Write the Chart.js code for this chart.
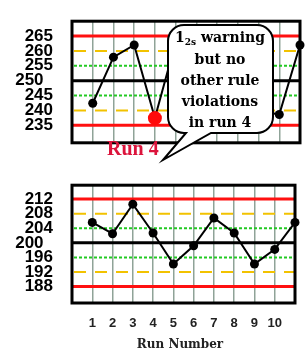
<!DOCTYPE html>
<html>
<head>
<meta charset="utf-8">
<script src="https://cdn.jsdelivr.net/npm/chart.js@4.4.1/dist/chart.umd.min.js"></script>
<style>
  html, body { margin: 0; padding: 0; background: #fff; }
  #wrap { position: relative; width: 308px; height: 354px; overflow: hidden; background: #fff; }
  #topChart { position: absolute; left: 0; top: 0; }
  #bottomChart { position: absolute; left: 0; top: 164px; }
</style>
</head>
<body>
<div id="wrap">
  <canvas id="topChart" width="308" height="164"></canvas>
  <canvas id="bottomChart" width="308" height="190"></canvas>
</div>
<script>
// run numbers (11th point sits on the right frame, unlabelled)
const runs = [1, 2, 3, 4, 5, 6, 7, 8, 9, 10, 11];
const runLabels = ['1', '2', '3', '4', '5', '6', '7', '8', '9', '10'];

// high control (mean 250, sd 5) and low control (mean 200, sd 4)
const highValues = [242.4, 257.9, 262.0, 237.4, 263.0, 255.0, 267.4, 252.0, 240.0, 238.6, 262.0];
const lowValues = [205.6, 202.5, 210.6, 202.7, 194.2, 199.2, 206.8, 202.7, 194.2, 198.2, 205.6];

const highTicks = [235, 240, 245, 250, 255, 260, 265];
const lowTicks = [188, 192, 196, 200, 204, 208, 212];
const limitKinds = ['3s', '2s', '1s', 'mean', '1s', '2s', '3s'];

const highRange = [229.1, 270.0];
const lowRange = [183.5, 215.8];

const flaggedRun = 4;
const calloutLines = ['but no', 'other rule', 'violations', 'in run 4'];

const limitStyle = {
  '3s': { color: '#ff1010', width: 3, dash: [] },
  '2s': { color: '#f2c200', width: 2, dash: [12, 9] },
  '1s': { color: '#22c922', width: 2, dash: [3, 2] },
  'mean': { color: '#000', width: 3, dash: [] },
};

// control limit lines + plot frame, drawn under the data
const limitsPlugin = {
  id: 'limits',
  beforeDatasetsDraw(chart, args, opts) {
    const { ctx, chartArea: a, scales } = chart;
    ctx.save();
    opts.ticks.forEach((v, i) => {
      const s = limitStyle[limitKinds[i]];
      const y = scales.y.getPixelForValue(v);
      ctx.beginPath();
      ctx.strokeStyle = s.color;
      ctx.lineWidth = s.width;
      ctx.setLineDash(s.dash);
      ctx.lineDashOffset = -2;
      ctx.moveTo(a.left, y);
      ctx.lineTo(a.right, y);
      ctx.stroke();
    });
    ctx.setLineDash([]);
    ctx.lineWidth = 3;
    ctx.strokeStyle = '#000';
    ctx.strokeRect(a.left, a.top, a.right - a.left, a.bottom - a.top);
    ctx.restore();
  }
};

function drawCallout(ctx) {
  const x0 = 168, x1 = 273, y0 = 25, y1 = 133, r = 16;
  ctx.save();
  ctx.beginPath();
  ctx.moveTo(x0 + r, y0);
  ctx.lineTo(x1 - r, y0);
  ctx.arcTo(x1, y0, x1, y0 + r, r);
  ctx.lineTo(x1, y1 - r);
  ctx.arcTo(x1, y1, x1 - r, y1, r);
  ctx.lineTo(211, y1);
  ctx.lineTo(163, 160);
  ctx.lineTo(186, y1);
  ctx.lineTo(x0 + r, y1);
  ctx.arcTo(x0, y1, x0, y1 - r, r);
  ctx.lineTo(x0, y0 + r);
  ctx.arcTo(x0, y0, x0 + r, y0, r);
  ctx.closePath();
  ctx.fillStyle = '#fff';
  ctx.fill();
  ctx.lineWidth = 2;
  ctx.strokeStyle = '#000';
  ctx.stroke();

  // text
  const cx = 220;
  const big = 'bold 14px "DejaVu Serif"';
  const small = 'bold 9px "DejaVu Serif"';
  ctx.fillStyle = '#000';
  ctx.textBaseline = 'middle';
  ctx.textAlign = 'left';
  ctx.font = big;
  const w1 = ctx.measureText('1').width;
  const w3 = ctx.measureText(' warning').width;
  ctx.font = small;
  const w2 = ctx.measureText('2s').width;
  let x = cx - (w1 + w2 + w3) / 2;
  ctx.font = big;
  ctx.fillText('1', x, 38);
  ctx.font = small;
  ctx.fillText('2s', x + w1, 43);
  ctx.font = big;
  ctx.fillText(' warning', x + w1 + w2, 38);
  ctx.textAlign = 'center';
  calloutLines.forEach((t, i) => ctx.fillText(t, cx, 60 + i * 21));

  ctx.font = 'bold 20px "Liberation Serif"';
  ctx.fillStyle = '#dc143c';
  ctx.textAlign = 'left';
  ctx.textBaseline = 'alphabetic';
  ctx.fillText('Run ' + flaggedRun, 107, 155);
  ctx.restore();
}

const calloutPlugin = {
  id: 'callout',
  afterDraw(chart) { drawCallout(chart.ctx); }
};

const axisTitlePlugin = {
  id: 'axisTitle',
  afterDraw(chart) {
    const ctx = chart.ctx;
    ctx.save();
    ctx.font = 'bold 12px "DejaVu Serif"';
    ctx.fillStyle = '#222';
    ctx.textAlign = 'center';
    ctx.textBaseline = 'middle';
    ctx.fillText('Run Number', 180, 181);
    ctx.restore();
  }
};

function makeChart(id, values, ticks, range, isTop) {
  const meanValue = ticks[limitKinds.indexOf('mean')];
  return new Chart(document.getElementById(id), {
    type: 'line',
    data: {
      datasets: [{
        data: runs.map((r, i) => ({ x: r, y: values[i] })),
        borderColor: '#000',
        borderWidth: 2,
        tension: 0,
        clip: false,
        pointRadius: (c) => (isTop && c.dataIndex === flaggedRun - 1 ? 7 : 4.5),
        pointBackgroundColor: (c) => (isTop && c.dataIndex === flaggedRun - 1 ? '#ff0a0a' : '#000'),
        pointBorderColor: (c) => (isTop && c.dataIndex === flaggedRun - 1 ? '#ff0a0a' : '#000'),
        pointBorderWidth: 0,
      }]
    },
    options: {
      responsive: false,
      animation: false,
      devicePixelRatio: 1,
      layout: { padding: isTop ? { top: 8, right: 8, bottom: 18, left: 0 } : { top: 3, right: 8, bottom: 0, left: 0 } },
      plugins: {
        legend: { display: false },
        tooltip: { enabled: false },
        limits: { ticks: ticks },
      },
      scales: {
        x: {
          type: 'linear',
          min: 0,
          max: 11,
          afterBuildTicks: (s) => { s.ticks = runs.map((v) => ({ value: v })); },
          afterFit: (s) => { s.height = isTop ? 0 : 51; },
          border: { display: false },
          grid: {
            color: (c) => (c.tick && c.tick.value === 11 ? 'rgba(0,0,0,0)' : '#8fa398'),
            lineWidth: 1.5,
            drawTicks: false,
          },
          ticks: {
            display: !isTop,
            autoSkip: false,
            maxRotation: 0,
            padding: 13,
            color: '#222',
            font: { family: 'Liberation Sans', size: 13, weight: 'bold' },
            callback: (v) => runLabels[v - 1] || '',
          },
        },
        y: {
          min: range[0],
          max: range[1],
          afterBuildTicks: (s) => { s.ticks = ticks.map((v) => ({ value: v })); },
          afterFit: (s) => { s.width = 72; },
          border: { display: false },
          grid: { display: false },
          ticks: {
            autoSkip: false,
            padding: 11,
            color: '#000',
            font: { family: 'Liberation Sans', size: 17, weight: 'bold' },
            callback: (v) => (v === meanValue ? v + '  ' : String(v)),
          },
        },
      },
    },
    plugins: isTop ? [limitsPlugin, calloutPlugin] : [limitsPlugin, axisTitlePlugin],
  });
}

makeChart('topChart', highValues, highTicks, highRange, true);
makeChart('bottomChart', lowValues, lowTicks, lowRange, false);
</script>
</body>
</html>
